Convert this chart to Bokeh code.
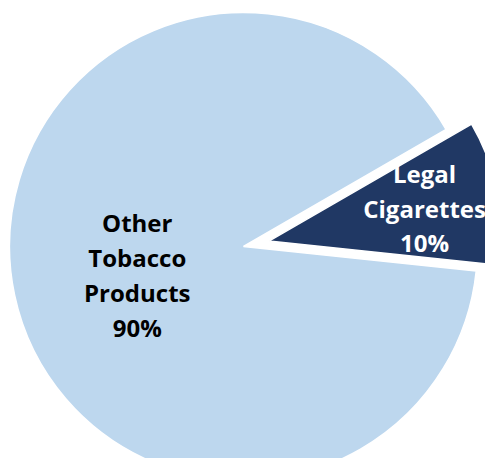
import numpy as np
from bokeh.plotting import figure
from bokeh.models import Range1d, ColumnDataSource
from bokeh.core.properties import value
from bokeh.embed import file_html
from bokeh.resources import INLINE

# ---- data ----
categories = ["Legal\nCigarettes", "Other\nTobacco\nProducts"]
shares = [10, 90]
colors = ["#203864", "#BDD7EE"]
label_colors = ["white", "black"]

# ---- layout / style ----
W, H = 485, 458
cx, cy = 243, 212          # pie centre (data units = px)
R = 234                    # radius
start_deg = -6             # angle where the first slice starts
explode = [26, 0]          # px each slice is pulled out
label_frac = [0.68, 0.47]  # label distance as fraction of R
label_rot = [0, 3]         # small angular nudge of labels (deg)

fr = np.array(shares, dtype=float) / sum(shares)
ends = start_deg + np.cumsum(fr) * 360
starts = np.concatenate([[start_deg], ends[:-1]])
mids = np.radians((starts + ends) / 2)
lmids = mids + np.radians(label_rot)

xs = cx + np.array(explode) * np.cos(mids)
ys = cy + np.array(explode) * np.sin(mids)
lx = xs + np.array(label_frac) * R * np.cos(lmids)
ly = ys + np.array(label_frac) * R * np.sin(lmids)

texts = [f"{c}\n{s}%" for c, s in zip(categories, shares)]

src = ColumnDataSource(dict(
    x=xs, y=ys, start=np.radians(starts), end=np.radians(ends),
    color=colors, lx=lx, ly=ly, text=texts, tcolor=label_colors,
))

p = figure(width=W, height=H, output_backend="svg", toolbar_location=None,
           x_range=Range1d(0, W), y_range=Range1d(0, H),
           min_border=0, outline_line_color=None)
p.axis.visible = False
p.grid.visible = False
p.background_fill_color = "white"
p.border_fill_color = "white"

p.wedge(x="x", y="y", radius=R, start_angle="start", end_angle="end",
        fill_color="color", line_color="white", line_width=1.5, source=src)

p.text(x="lx", y="ly", text="text", source=src,
       text_color="tcolor", text_font=value("Open Sans"),
       text_font_style="bold", text_font_size="24px",
       text_align="center", text_baseline="middle", text_line_height=1.06)

open("out.html", "w").write(file_html(p, INLINE))
